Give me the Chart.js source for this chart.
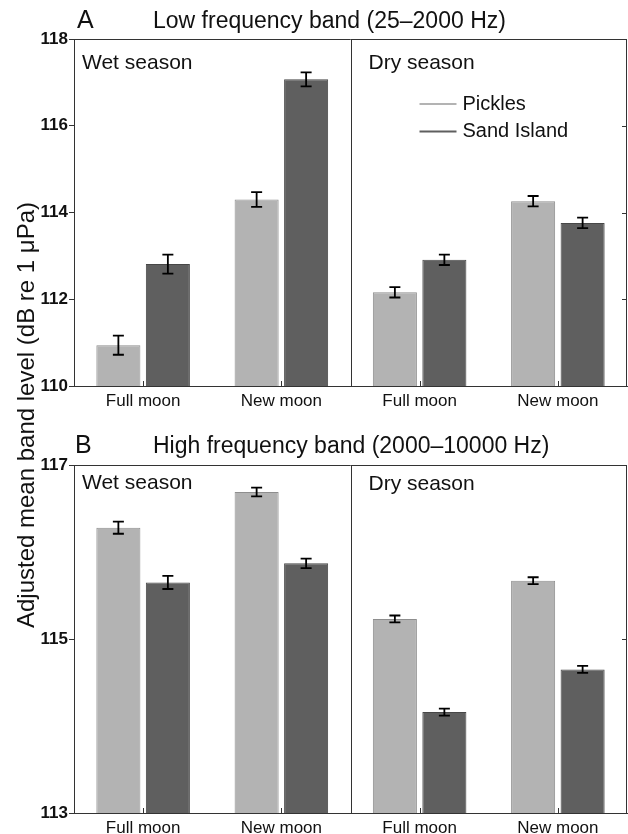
<!DOCTYPE html>
<html>
<head>
<meta charset="utf-8">
<script src="https://cdn.jsdelivr.net/npm/chart.js@4"></script>
<style>
  body { margin: 0; background: #fff; }
  #page { position: relative; width: 628px; height: 834px; overflow: hidden; }
  .box { position: absolute; left: 0; width: 628px; }
  #ytitle {
    position: absolute; left: -224px; top: 401px; width: 500px; height: 28px;
    line-height: 28px; text-align: center; transform: rotate(-90deg);
    font: 24px "Liberation Sans", Arial, Helvetica, sans-serif; color: #111;
  }
</style>
</head>
<body>
<div id="page">
  <div class="box" style="top:0;height:415px"><canvas id="chartA"></canvas></div>
  <div class="box" style="top:415px;height:419px"><canvas id="chartB"></canvas></div>
  <div id="ytitle">Adjusted mean band level (dB re 1 μPa)</div>
</div>
<script>
// categories
var seasons = ["Wet season", "Dry season"];
var moonPhases = ["Full moon", "New moon", "Full moon", "New moon"];
var sites = ["Pickles", "Sand Island"];

// low frequency band (25-2000 Hz), wet full, wet new, dry full, dry new
var lowPickles = [110.94, 114.30, 112.16, 114.26];
var lowPicklesErr = [0.22, 0.17, 0.12, 0.12];
var lowSand = [112.81, 117.07, 112.91, 113.76];
var lowSandErr = [0.22, 0.16, 0.12, 0.12];

// high frequency band (2000-10000 Hz)
var highPickles = [116.28, 116.69, 115.23, 115.67];
var highPicklesErr = [0.07, 0.05, 0.04, 0.04];
var highSand = [115.65, 115.87, 114.16, 114.65];
var highSandErr = [0.075, 0.055, 0.04, 0.04];

// y axis ranges
var lowRange = [110, 118, 2];
var highRange = [113, 117, 2];

var FONT = '"Liberation Sans", Arial, Helvetica, sans-serif';
Chart.defaults.font.family = FONT;
Chart.defaults.color = "#111";

var fills = ["#b3b3b3", "#5f5f5f"];
var edges = ["#8e8e8e", "#474747"];

//draws error bars, frame, divider, inner ticks, labels and legend
var panelDecor = {
  id: "panelDecor",
  afterDatasetsDraw: function(chart) {
    var ctx = chart.ctx, y = chart.scales.y;
    ctx.save();
    ctx.strokeStyle = "#000";
    ctx.lineWidth = 1.8;
    chart.data.datasets.forEach(function(ds, i) {
      chart.getDatasetMeta(i).data.forEach(function(bar, j) {
        var v = ds.data[j], e = ds.errors[j];
        var t = y.getPixelForValue(v + e), b = y.getPixelForValue(v - e);
        ctx.beginPath();
        ctx.moveTo(bar.x, t); ctx.lineTo(bar.x, b);
        ctx.moveTo(bar.x - 5.5, t); ctx.lineTo(bar.x + 5.5, t);
        ctx.moveTo(bar.x - 5.5, b); ctx.lineTo(bar.x + 5.5, b);
        ctx.stroke();
      });
    });
    ctx.restore();
  },
  afterDraw: function(chart, args, o) {
    var ctx = chart.ctx, a = chart.chartArea, x = chart.scales.x, y = chart.scales.y;
    var mid = Math.round((x.getPixelForValue(1) + x.getPixelForValue(2)) / 2) + 0.5;
    ctx.save();
    ctx.strokeStyle = "#333";
    ctx.lineWidth = 1;
    ctx.beginPath();
    ctx.moveTo(a.left, a.top + 0.5); ctx.lineTo(a.right, a.top + 0.5);
    ctx.moveTo(a.right - 0.5, a.top); ctx.lineTo(a.right - 0.5, a.bottom);
    ctx.moveTo(mid, a.top); ctx.lineTo(mid, a.bottom);
    // inner category ticks
    for (var i = 0; i < moonPhases.length; i++) {
      var px = Math.round(x.getPixelForValue(i)) + 0.5;
      ctx.moveTo(px, a.bottom); ctx.lineTo(px, a.bottom - 5);
    }
    // inner right ticks
    y.ticks.forEach(function(t) {
      if (t.value <= y.min || t.value >= y.max) return;
      var py = Math.round(y.getPixelForValue(t.value)) + 0.5;
      ctx.moveTo(a.right, py); ctx.lineTo(a.right - 5, py);
    });
    ctx.stroke();

    ctx.fillStyle = "#111";
    ctx.textBaseline = "alphabetic";
    ctx.font = "21px " + FONT;
    ctx.fillText(seasons[0], a.left + 8, a.top + o.seasonDy);
    ctx.fillText(seasons[1], mid + 17, a.top + o.seasonDy + o.drySeasonShift);

    ctx.font = "25px " + FONT;
    ctx.fillText(o.letter, o.letterX, o.titleY);
    ctx.font = "23px " + FONT;
    ctx.fillText(o.title, 153, o.titleY);

    if (o.legend) {
      ctx.font = "20px " + FONT;
      ctx.textBaseline = "middle";
      chart.data.datasets.forEach(function(ds, i) {
        var ly = a.top + 65 + i * 27.5;
        ctx.strokeStyle = ds.backgroundColor;
        ctx.lineWidth = 2;
        ctx.beginPath();
        ctx.moveTo(mid + 68, ly); ctx.lineTo(mid + 105, ly);
        ctx.stroke();
        ctx.fillText(ds.label, mid + 111, ly);
      });
    }
    ctx.restore();
  }
};

function makeChart(id, p, pe, s, se, range, topPad, axisH, deco) {
  return new Chart(document.getElementById(id), {
    type: "bar",
    data: {
      labels: moonPhases,
      datasets: [
        { label: sites[0], data: p, errors: pe, backgroundColor: fills[0], borderColor: edges[0], borderWidth: 1,
          barPercentage: 0.89, categoryPercentage: 0.716 },
        { label: sites[1], data: s, errors: se, backgroundColor: fills[1], borderColor: edges[1], borderWidth: 1,
          barPercentage: 0.89, categoryPercentage: 0.716 }
      ]
    },
    options: {
      responsive: true,
      maintainAspectRatio: false,
      animation: false,
      layout: { padding: { top: topPad, right: 1, left: 0, bottom: 0 } },
      plugins: { legend: { display: false }, tooltip: { enabled: false }, title: { display: false }, panelDecor: deco },
      scales: {
        x: {
          grid: { display: false, drawTicks: false },
          border: { display: true, color: "#333", width: 1 },
          ticks: { font: { size: 17 }, color: "#111", padding: 5, maxRotation: 0 },
          afterFit: function(sc) { sc.height = axisH; }
        },
        y: {
          min: range[0], max: range[1],
          grid: { drawOnChartArea: false, drawTicks: true, tickLength: 5, color: "#333" },
          border: { display: true, color: "#333", width: 1 },
          ticks: { stepSize: range[2], font: { size: 17, weight: "bold" }, color: "#111", padding: 1 },
          afterFit: function(sc) { sc.width = 74; }
        }
      }
    },
    plugins: [panelDecor]
  });
}

var chartA = makeChart("chartA", lowPickles, lowPicklesErr, lowSand, lowSandErr, lowRange, 39, 29,
  { letter: "A", letterX: 77, title: "Low frequency band (25\u20132000 Hz)", titleY: 28, seasonDy: 30, drySeasonShift: 0, legend: true });
var chartB = makeChart("chartB", highPickles, highPicklesErr, highSand, highSandErr, highRange, 50, 21,
  { letter: "B", letterX: 75, title: "High frequency band (2000\u201310000 Hz)", titleY: 38, seasonDy: 24, drySeasonShift: 1, legend: false });
</script>
</body>
</html>
